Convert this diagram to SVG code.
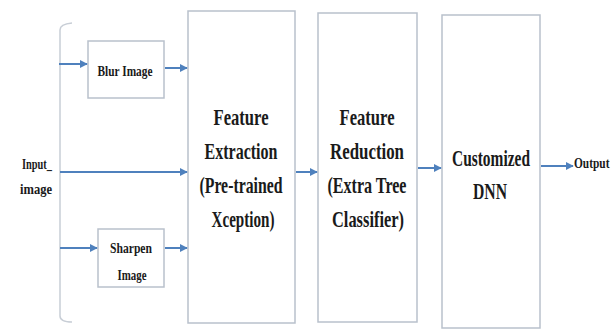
<svg xmlns="http://www.w3.org/2000/svg" width="612" height="329" viewBox="0 0 612 329">
  <style>
    .box { fill: #ffffff; stroke: #b9c1cc; stroke-width: 1.5; }
    .lbl { font-family: "Liberation Serif", "Times New Roman", serif; font-weight: bold; fill: #1a1a1a; text-anchor: middle; }
    .big { font-size: 24px; }
    .small { font-size: 15px; }
    .arrow { stroke: #4f81bd; stroke-width: 2; fill: none; marker-end: url(#head); }
  </style>
  <defs>
    <marker id="head" viewBox="0 0 10 10" refX="9" refY="5" markerWidth="4" markerHeight="4" orient="auto">
      <path d="M0,0 L10,5 L0,10 z" fill="#4f81bd"/>
    </marker>
  </defs>
  <rect width="612" height="329" fill="#ffffff"/>

  <!-- input bracket -->
  <path d="M72,23 Q60,24 60,30 L60,316 Q60,322 72,322" fill="none" stroke="#c8ced6" stroke-width="1.5"/>

  <g id="input">
    <text class="lbl small" x="37" y="169" textLength="30" lengthAdjust="spacingAndGlyphs">Input_</text>
    <text class="lbl small" x="36" y="194" textLength="32" lengthAdjust="spacingAndGlyphs">image</text>
  </g>

  <g id="blur">
    <rect class="box" x="88" y="41" width="76" height="57"/>
    <text class="lbl small" x="125" y="76" textLength="55" lengthAdjust="spacingAndGlyphs">Blur Image</text>
  </g>

  <g id="sharpen">
    <rect class="box" x="98" y="229" width="66" height="58"/>
    <text class="lbl small" x="131" y="253" textLength="42" lengthAdjust="spacingAndGlyphs">Sharpen</text>
    <text class="lbl small" x="132" y="280" textLength="29" lengthAdjust="spacingAndGlyphs">Image</text>
  </g>

  <g id="extraction">
    <rect class="box" x="188" y="11" width="107" height="312"/>
    <text class="lbl big" x="241" y="125" textLength="55" lengthAdjust="spacingAndGlyphs">Feature</text>
    <text class="lbl big" x="241" y="159" textLength="73" lengthAdjust="spacingAndGlyphs">Extraction</text>
    <text class="lbl big" x="241" y="193" textLength="83" lengthAdjust="spacingAndGlyphs">(Pre-trained</text>
    <text class="lbl big" x="243" y="227" textLength="63" lengthAdjust="spacingAndGlyphs">Xception)</text>
  </g>

  <g id="reduction">
    <rect class="box" x="318" y="13" width="99" height="309"/>
    <text class="lbl big" x="367" y="125" textLength="55" lengthAdjust="spacingAndGlyphs">Feature</text>
    <text class="lbl big" x="367" y="159" textLength="74" lengthAdjust="spacingAndGlyphs">Reduction</text>
    <text class="lbl big" x="367" y="193" textLength="79" lengthAdjust="spacingAndGlyphs">(Extra Tree</text>
    <text class="lbl big" x="368" y="227" textLength="72" lengthAdjust="spacingAndGlyphs">Classifier)</text>
  </g>

  <g id="dnn">
    <rect class="box" x="442" y="15" width="98" height="313"/>
    <text class="lbl big" x="491" y="166" textLength="78" lengthAdjust="spacingAndGlyphs">Customized</text>
    <text class="lbl big" x="490" y="199" textLength="34" lengthAdjust="spacingAndGlyphs">DNN</text>
  </g>

  <g id="output">
    <!-- narrowed with a horizontal scale so it stays inside the right edge -->
    <text class="lbl small" transform="translate(574,168) scale(0.76,1)" x="0" y="0" style="text-anchor:start">Output</text>
  </g>

  <g id="connectors">
    <line class="arrow" x1="59" y1="64" x2="87" y2="64"/>
    <line class="arrow" x1="165" y1="68" x2="187" y2="68"/>
    <line class="arrow" x1="60" y1="172" x2="187" y2="172"/>
    <line class="arrow" x1="60" y1="248" x2="97" y2="248"/>
    <line class="arrow" x1="165" y1="248" x2="187" y2="248"/>
    <line class="arrow" x1="296" y1="172" x2="317" y2="172"/>
    <line class="arrow" x1="418" y1="168" x2="441" y2="168"/>
    <line class="arrow" x1="541" y1="166" x2="573" y2="166"/>
  </g>
</svg>
